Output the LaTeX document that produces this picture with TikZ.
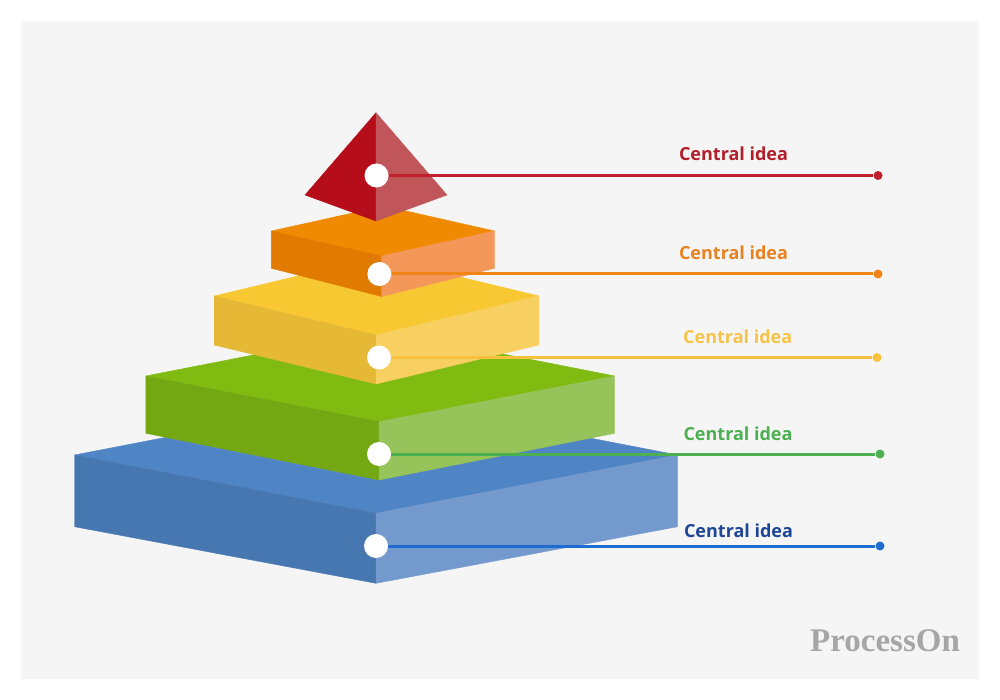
\documentclass[tikz,border=0pt]{standalone}
\usepackage{fontspec}
\setmainfont{Open Sans}
\newfontfamily\wmfont{Liberation Serif}
\definecolor{bgc}{RGB}{245,245,245}
\definecolor{rL}{RGB}{181,14,26}
\definecolor{rR}{RGB}{192,86,90}
\definecolor{oT}{RGB}{240,138,0}
\definecolor{oL}{RGB}{224,123,0}
\definecolor{oR}{RGB}{243,152,88}
\definecolor{yT}{RGB}{248,200,50}
\definecolor{yL}{RGB}{229,185,53}
\definecolor{yR}{RGB}{248,208,98}
\definecolor{gT}{RGB}{128,187,18}
\definecolor{gL}{RGB}{115,168,18}
\definecolor{gR}{RGB}{151,195,91}
\definecolor{bT}{RGB}{80,133,197}
\definecolor{bL}{RGB}{71,119,176}
\definecolor{bR}{RGB}{116,153,204}
\definecolor{redline}{RGB}{192,32,44}
\definecolor{orgline}{RGB}{240,132,20}
\definecolor{yelline}{RGB}{248,192,60}
\definecolor{grnline}{RGB}{76,175,80}
\definecolor{bluline}{RGB}{30,110,210}
\definecolor{redtxt}{RGB}{180,30,40}
\definecolor{orgtxt}{RGB}{232,130,30}
\definecolor{yeltxt}{RGB}{245,195,70}
\definecolor{grntxt}{RGB}{76,175,80}
\definecolor{blutxt}{RGB}{30,70,150}
\definecolor{wmgray}{RGB}{166,166,166}
\begin{document}
\begin{tikzpicture}[x=1pt,y=-1pt,
  face/.style={fill=#1,draw=#1,line width=0.4pt,line join=round},
  dotw/.style={circle,fill=white,minimum size=24pt,inner sep=0pt},
  enddot/.style={circle,fill=#1,minimum size=9pt,inner sep=0pt},
  conn/.style={line width=3pt,draw=#1},
  lbl/.style={font=\fontsize{18}{20}\selectfont\bfseries,inner sep=0pt,text=#1}]
\useasboundingbox (0,0) rectangle (1000,700);
\fill[white] (0,0) rectangle (1000,700);
\fill[bgc] (21,21) rectangle (979,679);
% blue block
\filldraw[face=bT] (74.5,455) -- (376,396.7) -- (677.7,455) -- (376,513.3) -- cycle;
\filldraw[face=bL] (74.5,455) -- (376,513.3) -- (376,583.3) -- (74.5,526.7) -- cycle;
\filldraw[face=bR] (376,513.3) -- (677.7,455) -- (677.7,526.7) -- (376,583.3) -- cycle;
% green block
\filldraw[face=gT] (145.8,376) -- (381,330) -- (614.7,376) -- (379,421.7) -- cycle;
\filldraw[face=gL] (145.8,376) -- (379,421.7) -- (379,480) -- (145.8,433.3) -- cycle;
\filldraw[face=gR] (379,421.7) -- (614.7,376) -- (614.7,433.3) -- (379,480) -- cycle;
% yellow block
\filldraw[face=yT] (214.2,296) -- (377,257) -- (538.9,296) -- (376,335) -- cycle;
\filldraw[face=yL] (214.2,296) -- (376,335) -- (376,384) -- (214.2,345) -- cycle;
\filldraw[face=yR] (376,335) -- (538.9,296) -- (538.9,345) -- (376,384) -- cycle;
% orange block
\filldraw[face=oT] (271.4,231) -- (384,206) -- (494.5,231) -- (381.7,256) -- cycle;
\filldraw[face=oL] (271.4,231) -- (381.7,256) -- (381.7,296.5) -- (271.4,268.3) -- cycle;
\filldraw[face=oR] (381.7,256) -- (494.5,231) -- (494.5,268.3) -- (381.7,296.5) -- cycle;
% red pyramid
\filldraw[face=rL] (376,112.7) -- (305,195) -- (376,221) -- cycle;
\filldraw[face=rR] (376,112.7) -- (447,195) -- (376,221) -- cycle;
% markers
\node[dotw] (c1) at (376.5,175.5) {};
\node[dotw] (c2) at (379.3,274) {};
\node[dotw] (c3) at (379,357.5) {};
\node[dotw] (c4) at (379,454) {};
\node[dotw] (c5) at (376,546) {};
\node[enddot=redline] (e1) at (878,175.5) {};
\node[enddot=orgline] (e2) at (878,274) {};
\node[enddot=yelline] (e3) at (877,357.5) {};
\node[enddot=grnline] (e4) at (880,454) {};
\node[enddot=bluline] (e5) at (880,546) {};
\draw[conn=redline] (c1) -- (e1);
\draw[conn=orgline] (c2) -- (e2);
\draw[conn=yelline] (c3) -- (e3);
\draw[conn=grnline] (c4) -- (e4);
\draw[conn=bluline] (c5) -- (e5);
% labels
\node[lbl=redtxt] (t1) at (733.5,153.5) {Central idea};
\node[lbl=orgtxt] (t2) at (733.5,253) {Central idea};
\node[lbl=yeltxt] (t3) at (737.7,337) {Central idea};
\node[lbl=grntxt] (t4) at (738,434) {Central idea};
\node[lbl=blutxt] (t5) at (738.5,530.5) {Central idea};
% watermark
\node[font=\wmfont\bfseries\fontsize{33}{36}\selectfont,text=wmgray,inner sep=0pt] (wm) at (885,640.5) {ProcessOn};
\end{tikzpicture}
\end{document}
